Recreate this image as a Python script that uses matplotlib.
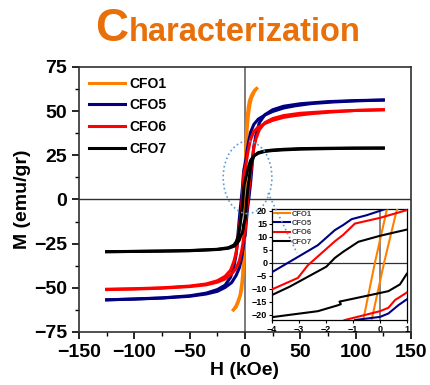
import matplotlib
matplotlib.use('Agg')
import matplotlib.pyplot as plt
from matplotlib.patches import Ellipse
from matplotlib.lines import Line2D
from matplotlib.ticker import MultipleLocator

plt.rcParams['font.family'] = ['Liberation Sans', 'DejaVu Sans']
plt.rcParams['font.weight'] = 'bold'

# hysteresis loops, H in kOe, M in emu/gr
# descending branch (upper) and ascending branch (lower)
cfo1_up_h = [10.5, 8.5, 6, 4, 3, 2, 1.2, 0.25, -0.19, -0.62, -1.2, -2, -3, -4.5, -6, -8, -10.5]
cfo1_up_m = [62.8, 61.8, 59.2, 56, 52.5, 47, 38, 20.3, 0, -22, -33, -41.8, -48, -54, -57, -60, -62.5]
cfo1_lo_h = [-10.5, -8, -6, -4, -3, -2, -1.2, -0.31, 0.15, 0.62, 1.2, 2, 3, 4.5, 6, 8.5, 10.5]
cfo1_lo_m = [-62.5, -61, -58, -54, -51, -45, -36, -22, 0, 20.3, 30, 40, 47, 54, 57.5, 61, 62.8]

cfo5_up_h = [125, 100, 80, 60, 45, 35, 25, 18, 12, 8, 5, 3, 2, 1, 0, -0.5, -1.05, -1.37, -1.67,
             -2.3, -3.41, -4.15, -5, -6, -7, -8, -10, -13, -18, -25, -35, -50, -75, -100, -125]
cfo5_up_m = [56.3, 55.8, 55.2, 54.3, 53, 51.8, 49.8, 47.8, 45.5, 42.5, 38, 32, 28, 23.5, 20.0, 18.3, 16.8,
             14.5, 12.6, 6.8, 0, -4.5, -10, -17, -25, -31, -38, -44, -48.5, -51, -53, -54.5, -55.7, -56.3, -56.8]
cfo5_lo_h = [-125, -100, -75, -50, -35, -25, -18, -12, -8, -5, -3, -2, -1, -0.93, 0, 0.31, 0.68, 1,
             2, 3, 3.4, 4, 5, 6, 7, 8, 10, 13, 18, 25, 35, 50, 75, 100, 125]
cfo5_lo_m = [-56.8, -56.4, -55.8, -54.8, -53.5, -52, -49.8, -47, -43, -38.5, -33, -29, -24.5, -22, -20.8,
             -19.5, -16.3, -14, -7, -1.5, 0, 3.5, 9, 16, 24, 30, 37, 43.5, 48, 50.8, 52.8, 54.2, 55.4, 56, 56.3]

cfo6_up_h = [125, 100, 80, 60, 45, 35, 25, 18, 12, 8, 5, 3, 2, 1, 0, -0.93, -1.37, -1.67, -2.57,
             -2.67, -3.04, -4.15, -5, -6, -7, -8, -10, -13, -18, -25, -35, -50, -75, -100, -125]
cfo6_up_m = [50.8, 50.4, 49.6, 48.6, 47.5, 46.5, 44.8, 43, 41, 38.5, 34, 28, 24.5, 20.3, 17.3, 15.1,
             10.7, 8.3, 0, -0.9, -5.8, -10.9, -15, -20, -26, -30, -35, -40, -43.5, -46, -47.8, -49, -50, -50.5, -50.8]
cfo6_lo_h = [-125, -100, -75, -50, -35, -25, -18, -12, -8, -5, -3, -2, -1.3, 0, 0.31, 0.56, 1,
             2, 2.6, 3, 4, 5, 6, 7, 8, 10, 13, 18, 25, 35, 50, 75, 100, 125]
cfo6_lo_m = [-51, -50.7, -50.2, -49.3, -48.3, -46.8, -45, -42, -39, -34.5, -29, -25.5, -22, -18.6, -17.3,
             -14.3, -11.4, -3, 0, 2.5, 8.5, 14, 19.5, 25, 29.5, 34.5, 39.5, 43.5, 45.8, 47.5, 48.8, 49.8, 50.4, 50.8]

cfo7_up_h = [125, 100, 75, 50, 35, 25, 18, 12, 8, 5, 3, 2, 1, 0, -0.8, -1.37, -1.67, -1.99,
             -3.35, -4.15, -5, -6, -8, -10, -15, -25, -50, -75, -100, -125]
cfo7_up_m = [29.1, 29, 28.8, 28.5, 28.1, 27.7, 27.2, 26.2, 24.8, 22, 18, 15.5, 12.8, 10.4, 8.1, 4.2, 1.9,
             -1.5, -9.2, -13.1, -17, -20.5, -24, -25.8, -27.3, -28.2, -28.9, -29.2, -29.4, -29.5]
cfo7_lo_h = [-125, -100, -75, -50, -35, -25, -15, -10, -7, -5, -4.15, -2.3, -1.55, -1.45, -1.5, -1.4,
             0, 0.31, 0.74, 1, 1.5, 2, 3, 4, 5, 6, 8, 12, 18, 25, 35, 50, 75, 100, 125]
cfo7_lo_m = [-29.6, -29.4, -29.2, -29, -28.6, -28.3, -27.6, -26.5, -24.8, -22.8, -21.1, -18.6, -16.3,
             -15.9, -14.9, -14.7, -11.6, -10.9, -8.3, -4.1, -0.5, 2.5, 8.5, 13, 17.5, 21, 24.5, 26.5,
             27.5, 28, 28.4, 28.8, 29, 29.1, 29.1]

samples = [
    ('CFO1', '#FF8000', cfo1_up_h, cfo1_up_m, cfo1_lo_h, cfo1_lo_m),
    ('CFO5', '#000080', cfo5_up_h, cfo5_up_m, cfo5_lo_h, cfo5_lo_m),
    ('CFO6', '#FF0000', cfo6_up_h, cfo6_up_m, cfo6_lo_h, cfo6_lo_m),
    ('CFO7', '#000000', cfo7_up_h, cfo7_up_m, cfo7_lo_h, cfo7_lo_m),
]

fig = plt.figure(figsize=(4.3, 3.85), dpi=100)
ax = fig.add_axes([0.1837, 0.1377, 0.7721, 0.6883])

ax.axvline(0, color='#707070', lw=1.3, zorder=1)
ax.axhline(0, color='#303030', lw=1.0, zorder=1)
for name, col, uh, um, lh, lm in samples:
    ax.plot(uh, um, color=col, lw=2.2, label=name, zorder=3)
    ax.plot(lh, lm, color=col, lw=2.2, zorder=3)

ax.set_xlim(-150, 150)
ax.set_ylim(-75, 75)
ax.xaxis.set_major_locator(MultipleLocator(50))
ax.xaxis.set_minor_locator(MultipleLocator(25))
ax.yaxis.set_major_locator(MultipleLocator(25))
ax.yaxis.set_minor_locator(MultipleLocator(12.5))
ax.tick_params(which='major', direction='out', length=5, width=1.2, labelsize=14)
ax.tick_params(which='minor', direction='out', length=3, width=1.0)
for lab in ax.get_xticklabels() + ax.get_yticklabels():
    lab.set_fontweight('bold')
for s in ax.spines.values():
    s.set_linewidth(1.2)
    s.set_color('#303030')
ax.set_xlabel('H (kOe)', fontsize=14, fontweight='bold', labelpad=1)
ax.set_ylabel('M (emu/gr)', fontsize=14, fontweight='bold', labelpad=2)

leg = ax.legend(loc='upper left', frameon=False, fontsize=10, handlelength=2.6,
                handletextpad=0.3, labelspacing=0.55, borderaxespad=0.3)
for t in leg.get_texts():
    t.set_fontweight('bold')

# dotted circle marking the zoomed region
ax.add_patch(Ellipse((2.3, 12.5), 44, 41, fill=False, ls=':', lw=1.2,
                     color='#5B9BD5', zorder=4))

# inset
axin = fig.add_axes([0.6326, 0.1688, 0.3139, 0.2883])
axin.axvline(0, color='#707070', lw=1.2, zorder=1)
axin.axhline(0, color='#303030', lw=0.9, zorder=1)
for name, col, uh, um, lh, lm in samples:
    axin.plot(uh, um, color=col, lw=1.5, label=name, zorder=3)
    axin.plot(lh, lm, color=col, lw=1.5, zorder=3)
axin.set_xlim(-4, 1)
axin.set_ylim(-22, 20.7)
axin.xaxis.set_major_locator(MultipleLocator(1))
axin.yaxis.set_major_locator(MultipleLocator(5))
axin.tick_params(direction='out', length=2.5, width=0.8, labelsize=6.5, pad=1)
for lab in axin.get_xticklabels() + axin.get_yticklabels():
    lab.set_fontweight('bold')
for s in axin.spines.values():
    s.set_linewidth(0.9)
leg2 = axin.legend(loc='upper left', frameon=False, fontsize=5.5, handlelength=2.2,
                   handletextpad=0.2, labelspacing=0.25, borderaxespad=0.1, borderpad=0.1)
for t in leg2.get_texts():
    t.set_fontweight('bold')
    t.set_color('#404040')

fig.add_artist(Line2D([268 / 430, 297 / 430], [1 - 193 / 385, 1 - 253 / 385], ls=':',
                      lw=1.2, color='#5B9BD5', zorder=10))

fig.text(95 / 430, 1 - 41 / 385, 'C', fontsize=33, fontweight='bold', color='#E8700A',
         ha='left', va='baseline')
fig.text(129 / 430, 1 - 41 / 385, 'haracterization', fontsize=23.5, fontweight='bold',
         color='#E8700A', ha='left', va='baseline')

fig.savefig('out.png', dpi=100)
